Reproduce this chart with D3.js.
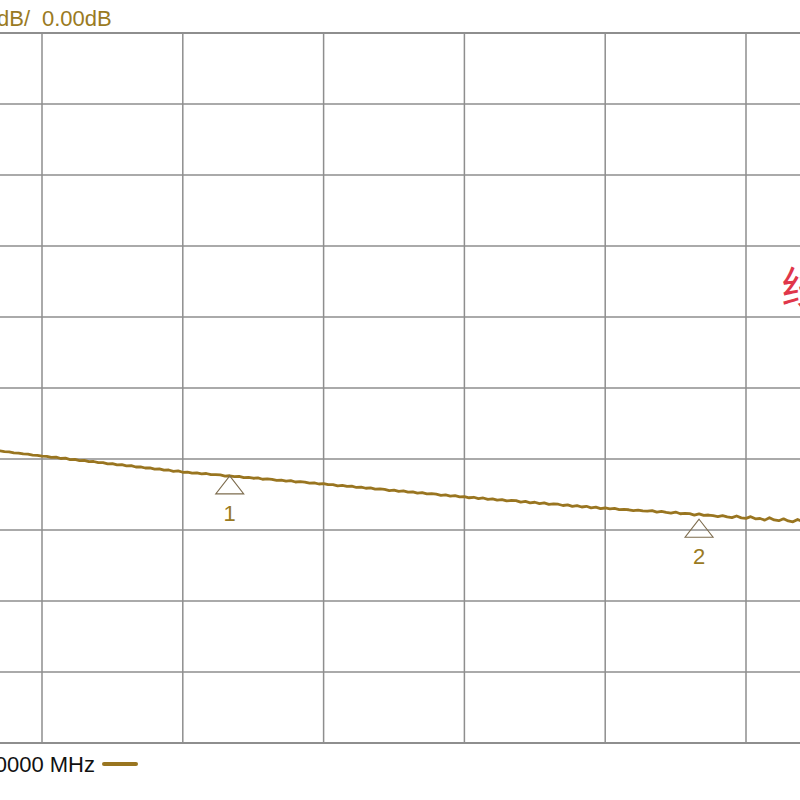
<!DOCTYPE html>
<html>
<head>
<meta charset="utf-8">
<script src="https://cdn.jsdelivr.net/npm/d3@7"></script>
<style>
  html, body { margin: 0; padding: 0; background: #fff; }
  svg { display: block; }
</style>
</head>
<body>
<svg id="chart" width="800" height="800"></svg>
<script>
// ---- data ----
const freqStart = 800;          // MHz, first sample
const freqStep = 10;            // MHz between samples
const traceDb = [
  -0.879,-0.884,-0.897,-0.901,-0.914,-0.916,-0.929,-0.932,-0.945,-0.948,-0.960,
  -0.962,-0.978,-0.974,-0.993,-0.989,-1.008,-1.006,-1.022,-1.019,-1.038,
  -1.035,-1.052,-1.051,-1.068,-1.064,-1.083,-1.080,-1.097,-1.093,-1.113,
  -1.110,-1.127,-1.126,-1.142,-1.139,-1.158,-1.155,-1.173,-1.168,-1.187,
  -1.184,-1.199,-1.196,-1.210,-1.204,-1.221,-1.219,-1.225,-1.240,-1.236,
  -1.249,-1.244,-1.262,-1.258,-1.271,-1.266,-1.285,-1.281,-1.287,-1.302,
  -1.297,-1.311,-1.305,-1.324,-1.319,-1.327,-1.341,-1.336,-1.352,-1.347,
  -1.362,-1.360,-1.378,-1.371,-1.386,-1.382,-1.401,-1.396,-1.412,-1.407,
  -1.425,-1.420,-1.428,-1.444,-1.438,-1.455,-1.450,-1.467,-1.462,-1.480,
  -1.473,-1.491,-1.487,-1.496,-1.511,-1.505,-1.522,-1.517,-1.534,-1.530,
  -1.546,-1.539,-1.558,-1.549,-1.569,-1.561,-1.580,-1.571,-1.591,-1.583,
  -1.586,-1.607,-1.598,-1.618,-1.609,-1.629,-1.619,-1.640,-1.631,-1.637,
  -1.655,-1.646,-1.667,-1.657,-1.676,-1.666,-1.688,-1.678,-1.699,-1.690,
  -1.703,-1.696,-1.712,-1.709,-1.715,-1.727,-1.719,-1.731,-1.735,-1.728,
  -1.749,-1.738,-1.752,-1.761,-1.747,-1.771,-1.765,-1.770,-1.790,-1.772,
  -1.794,-1.789,-1.798,-1.810,-1.797,-1.815,-1.826,-1.803,-1.829,-1.836,
  -1.812,-1.842,-1.838,-1.861,-1.826,-1.858,-1.869,-1.842,-1.873,-1.885,
  -1.851,-1.880
];
const gridFreqs = [0,300,600,900,1200,1500,1800,2100,2400,2700,3000]; // MHz
const gridDb = [5,4,3,2,1,0,-1,-2,-3,-4,-5];                          // dB
const markerIds = ["1","2"];
const markerFreqs = [1300, 2300];   // MHz
const markerDb = [-1.21, -1.82];    // dB
const headerScale = "dB/";
const headerRef = "0.00dB";
const footerText = "0000 MHz";
const noteText = "线";

// ---- layout ----
const svg = d3.select("#chart");
const x = d3.scaleLinear().domain([0, 3000]).range([-380.4, 1027.6]);
const y = d3.scaleLinear().domain([5, -5]).range([33, 743]);
const traceColor = "#997520";
const textColor = "#9a7a22";
const gridColor = "#8e8e8e";
const font = "'Liberation Sans', Arial, sans-serif";

// grid
svg.append("g").selectAll("line").data(gridFreqs).join("line")
  .attr("x1", d => x(d)).attr("x2", d => x(d))
  .attr("y1", y(5)).attr("y2", y(-5))
  .attr("stroke", gridColor).attr("stroke-width", 1.5);
svg.append("g").selectAll("line").data(gridDb).join("line")
  .attr("x1", x(0)).attr("x2", x(3000))
  .attr("y1", d => y(d)).attr("y2", d => y(d))
  .attr("stroke", gridColor).attr("stroke-width", (d, i) => (i === 0 || i === gridDb.length - 1) ? 2 : 1.5);

// trace
const pts = traceDb.map((v, i) => [freqStart + i * freqStep, v]);
svg.append("path")
  .datum(pts)
  .attr("d", d3.line().x(d => x(d[0])).y(d => y(d[1])))
  .attr("fill", "none")
  .attr("stroke", traceColor)
  .attr("stroke-width", 2.8)
  .attr("stroke-linejoin", "round");

// markers
const mk = svg.append("g").selectAll("g").data(markerIds).join("g")
  .attr("transform", (d, i) => `translate(${x(markerFreqs[i])},${y(markerDb[i]) + 2})`);
mk.append("path")
  .attr("d", "M0,0 L14,18 L-14,18 Z")
  .attr("fill", "none")
  .attr("stroke", "#7d6c4e")
  .attr("stroke-width", 1.1);
mk.append("text")
  .attr("x", 0).attr("y", 45)
  .attr("text-anchor", "middle")
  .attr("font-family", font)
  .attr("font-size", 22)
  .attr("fill", textColor)
  .text(d => d);

// header text
svg.append("text")
  .attr("x", 30).attr("y", 26)
  .attr("text-anchor", "end")
  .attr("font-family", font)
  .attr("font-size", 22)
  .attr("fill", textColor)
  .text(headerScale);
svg.append("text")
  .attr("x", 42).attr("y", 26)
  .attr("font-family", font)
  .attr("font-size", 22)
  .attr("fill", textColor)
  .text(headerRef);

// footer text + legend line
svg.append("text")
  .attr("x", 95).attr("y", 772)
  .attr("text-anchor", "end")
  .attr("font-family", font)
  .attr("font-size", 22)
  .attr("fill", "#111")
  .text(footerText);
svg.append("line")
  .attr("x1", 104).attr("x2", 136)
  .attr("y1", 764).attr("y2", 764)
  .attr("stroke", traceColor)
  .attr("stroke-width", 4)
  .attr("stroke-linecap", "round");

// red annotation (partially cut off at right edge, as in the reference)
svg.append("text")
  .attr("x", 781).attr("y", 304)
  .attr("font-family", "'Noto Sans CJK SC', sans-serif")
  .attr("font-size", 44)
  .attr("fill", "#e0364a")
  .text(noteText);
</script>
</body>
</html>
